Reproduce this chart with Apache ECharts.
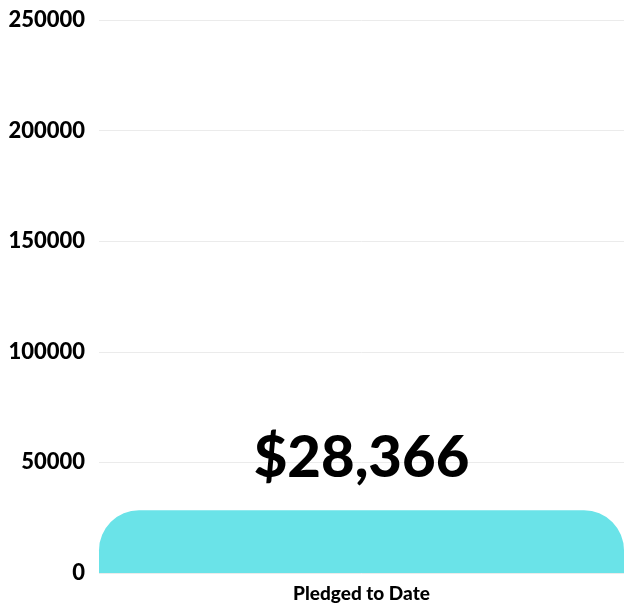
<!DOCTYPE html>
<html>
<head>
<meta charset="utf-8">
<script src="https://cdn.jsdelivr.net/npm/echarts@6/dist/echarts.min.js"></script>
<style>
  html, body { margin: 0; padding: 0; background: #fff; }
  #chart { width: 624px; height: 605px; }
</style>
</head>
<body>
<div id="chart"></div>
<script>
// chart data
const categories = ["Pledged to Date"];
const pledged = [28366];
const yMax = 250000;
const yStep = 50000;

const chart = echarts.init(document.getElementById("chart"));

const option = {
  animation: false,
  grid: { left: 99, right: 0, top: 20, bottom: 32 },
  xAxis: {
    type: "category",
    data: categories,
    axisLine: { show: false },
    axisTick: { show: false },
    axisLabel: {
      color: "#000",
      fontFamily: "Lato",
      fontWeight: 900,
      fontSize: 19,
      margin: 11
    }
  },
  yAxis: {
    type: "value",
    min: 0,
    max: yMax,
    interval: yStep,
    axisLine: { show: false },
    axisTick: { show: false },
    splitLine: { lineStyle: { color: "#ebebeb", width: 1 } },
    axisLabel: {
      color: "#000",
      fontFamily: "Lato",
      fontWeight: 900,
      fontSize: 22,
      margin: 14,
      formatter: (v) => String(v)
    }
  },
  series: [
    {
      type: "bar",
      data: pledged,
      barWidth: "100%",
      itemStyle: { color: "#6ae3e8", borderRadius: [40, 40, 0, 0] },
      label: {
        show: true,
        position: "top",
        distance: 23,
        color: "#000",
        fontFamily: "Lato",
        fontWeight: 900,
        fontSize: 58,
        formatter: (p) => "$" + p.value.toLocaleString("en-US")
      }
    }
  ]
};

option && chart.setOption(option);
</script>
</body>
</html>
